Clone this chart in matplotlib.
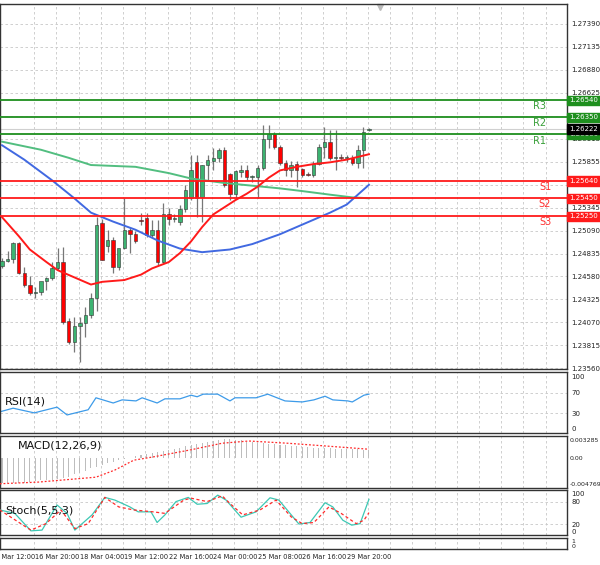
import numpy as np
import matplotlib
matplotlib.use("Agg")
import matplotlib.pyplot as plt

# ---- data (4h candles)
o = [1.2470, 1.2475, 1.2477, 1.2495, 1.2462, 1.2449, 1.2440, 1.2441, 1.2453, 1.2456,
     1.2467, 1.2474, 1.2408, 1.2385, 1.2403, 1.2406, 1.2415, 1.2434, 1.2518, 1.2492,
     1.2499, 1.2468, 1.2490, 1.2510, 1.2505, 1.2521, 1.2523, 1.2504, 1.2510, 1.2474,
     1.2527, 1.2522, 1.2519, 1.2533, 1.2545, 1.2585, 1.2546, 1.2582, 1.2587, 1.2590,
     1.2599, 1.2572, 1.2550, 1.2574, 1.2577, 1.2569, 1.2569, 1.2579, 1.2611, 1.2617,
     1.2602, 1.2584, 1.2577, 1.2583, 1.2578, 1.2572, 1.2571, 1.2583, 1.2602, 1.2608,
     1.2590, 1.2591, 1.2590, 1.2590, 1.2584, 1.2599, 1.2621]
h = [1.2478, 1.2486, 1.2496, 1.2496, 1.2468, 1.2458, 1.2446, 1.2443, 1.2457, 1.2474,
     1.2490, 1.2491, 1.2412, 1.2413, 1.2413, 1.2424, 1.2440, 1.2524, 1.2522, 1.2510,
     1.2502, 1.2475, 1.2545, 1.2513, 1.2509, 1.2529, 1.2529, 1.2521, 1.2521, 1.2540,
     1.2534, 1.2528, 1.2537, 1.2560, 1.2593, 1.2593, 1.2582, 1.2593, 1.2601, 1.2601,
     1.2602, 1.2573, 1.2577, 1.2582, 1.2582, 1.2571, 1.2582, 1.2627, 1.2627, 1.2619,
     1.2604, 1.2588, 1.2586, 1.2586, 1.2579, 1.2574, 1.2586, 1.2605, 1.2624, 1.2621,
     1.2621, 1.2594, 1.2593, 1.2593, 1.2604, 1.2624, 1.2623]
l = [1.2467, 1.2474, 1.2473, 1.2461, 1.2446, 1.2437, 1.2434, 1.2437, 1.2443, 1.2454,
     1.2465, 1.2405, 1.2383, 1.2374, 1.2363, 1.2391, 1.2412, 1.2420, 1.2476, 1.2485,
     1.2462, 1.2465, 1.2488, 1.2484, 1.2495, 1.2515, 1.2502, 1.2502, 1.2471, 1.2473,
     1.2515, 1.2519, 1.2515, 1.2530, 1.2543, 1.2524, 1.2519, 1.2565, 1.2577, 1.2585,
     1.2558, 1.2543, 1.2545, 1.2569, 1.2565, 1.2563, 1.2545, 1.2577, 1.2601, 1.2600,
     1.2582, 1.2570, 1.2569, 1.2558, 1.2569, 1.2570, 1.2569, 1.2582, 1.2590, 1.2588,
     1.2577, 1.2588, 1.2585, 1.2582, 1.2579, 1.2579, 1.2620]
c = [1.2475, 1.2477, 1.2495, 1.2462, 1.2449, 1.2440, 1.2441, 1.2453, 1.2456, 1.2467,
     1.2474, 1.2407, 1.2385, 1.2403, 1.2406, 1.2415, 1.2434, 1.2515, 1.2476, 1.2499,
     1.2468, 1.2490, 1.2510, 1.2505, 1.2498, 1.2520, 1.2504, 1.2510, 1.2474, 1.2527,
     1.2522, 1.2523, 1.2533, 1.2554, 1.2577, 1.2545, 1.2582, 1.2588, 1.2590, 1.2599,
     1.2560, 1.2550, 1.2575, 1.2577, 1.2569, 1.2570, 1.2579, 1.2611, 1.2617, 1.2602,
     1.2584, 1.2577, 1.2582, 1.2577, 1.2571, 1.2571, 1.2583, 1.2602, 1.2608, 1.2590,
     1.2591, 1.2590, 1.2591, 1.2584, 1.2599, 1.2619, 1.2622]

ma_red_x = [0, 3, 5, 8, 10, 13, 16, 18, 22, 25, 27, 30, 32, 34, 36, 38, 40, 42, 44, 46,
            48, 50, 53, 56, 59, 62, 64, 66]
ma_red = [1.2524, 1.2503, 1.2488, 1.2474, 1.2465, 1.2457, 1.2449, 1.2452, 1.2454, 1.2460,
          1.2467, 1.2474, 1.2484, 1.2497, 1.2513, 1.2527, 1.2535, 1.2543, 1.2550, 1.2558,
          1.2568, 1.2576, 1.2580, 1.2583, 1.2585, 1.2588, 1.2591, 1.2594]
ma_blue_x = [0, 4, 9, 13, 16, 20, 24, 28, 32, 36, 41, 45, 50, 53, 56, 59, 62, 64, 66]
ma_blue = [1.2604, 1.2588, 1.2565, 1.2545, 1.2529, 1.2519, 1.2510, 1.2498, 1.2489,
           1.2485, 1.2488, 1.2494, 1.2505, 1.2513, 1.2521, 1.2529, 1.2538, 1.2549, 1.2560]
ma_green_x = [0, 7, 12, 16, 24, 30, 34, 40, 45, 50, 54, 59, 63, 66]
ma_green = [1.2608, 1.2599, 1.2590, 1.2582, 1.2580, 1.2573, 1.2567, 1.2562, 1.2559,
            1.2556, 1.2553, 1.2549, 1.2546, 1.2545]

res_levels = [1.26540, 1.26350, 1.26160]
res_names = ["R3", "R2", "R1"]
sup_levels = [1.25640, 1.25450, 1.25250]
sup_names = ["S1", "S2", "S3"]
last_price = 1.26222
price_ticks = [1.27390, 1.27135, 1.26880, 1.26625, 1.26370, 1.26115, 1.25855, 1.25600,
               1.25345, 1.25090, 1.24835, 1.24580, 1.24325, 1.24070, 1.23815, 1.23560]

rsi_x = [-0.4, 2, 5.8, 9.9, 11.7, 15.5, 16.9, 20, 21.6, 24.1, 25.2, 27.9, 29.3, 32, 34,
         35.1, 36.2, 38.8, 41, 41.9, 45.7, 47.8, 50.9, 54, 56.1, 58.1, 59.5, 62.2, 63,
         65.1, 66]
rsi = [33, 40, 31, 42, 27, 37, 60, 50, 56, 54, 60, 50, 58, 58, 65, 62, 67, 67, 54, 60,
       60, 67, 54, 52, 56, 63, 56, 54, 52, 65, 67]

macd_hist = [-4.6, -4.6, -4.6, -4.6, -4.5, -4.4, -4.2, -4.1, -4.0, -4.0,
             -3.9, -3.7, -3.4, -3.0, -2.7, -2.3, -1.9, -1.6, -1.2, -0.9,
             -0.7, -0.4, -0.2, 0.0, 0.3, 0.5, 0.7, 0.9, 1.1, 1.3,
             1.5, 1.7, 1.9, 2.2, 2.4, 2.6, 2.8, 2.9, 3.1, 3.3,
             3.4, 3.4, 3.3, 3.2, 3.0, 2.9, 2.8, 2.7, 2.6, 2.5,
             2.4, 2.3, 2.2, 2.1, 2.0, 2.0, 1.9, 1.9, 1.8, 1.8,
             1.7, 1.7, 1.6, 1.6, 1.6, 1.5, 1.5]  # x 1e-3
macd_sig_x = [-0.4, 6.5, 16.9, 20.3, 23.7, 27.2, 34, 39.6, 44.4, 51.3, 58.1, 66]
macd_sig = [-4.7, -4.4, -3.5, -2.2, -0.4, 0.2, 1.5, 2.7, 3.1, 2.7, 2.2, 1.6]  # x 1e-3

st_x = [-0.4, 2.3, 5.2, 7.2, 9.9, 11.7, 13.1, 16.2, 18.5, 20.3, 23, 24.5, 26.8, 27.9,
        29.3, 31.3, 33.5, 35.1, 36.9, 38.8, 40.3, 43, 45.7, 48.2, 49.8, 53.4, 55.4,
        58.1, 59.5, 61.3, 62.9, 64.4, 66]
st_main = [58, 49, 3, 5, 71, 49, 5, 45, 91, 84, 66, 53, 53, 25, 45, 80, 91, 73, 75, 97,
           84, 39, 53, 90, 84, 21, 25, 77, 66, 31, 18, 22, 86]
sg_x = [-0.4, 3.8, 5.2, 7.9, 10.6, 13.1, 15.5, 18.5, 21, 23.7, 27.2, 29.3, 32.7, 34,
        36.9, 39.6, 41, 43.3, 46.4, 49.3, 52, 54, 56.1, 58.8, 61, 63.7, 65.1, 66]
st_sig = [58, 18, 5, 22, 58, 9, 22, 91, 66, 58, 53, 49, 84, 89, 80, 95, 75, 45, 58, 84,
          40, 22, 25, 66, 49, 22, 31, 51]

time_labels = ["15 Mar 12:00", "16 Mar 20:00", "18 Mar 04:00", "19 Mar 12:00",
               "22 Mar 16:00", "24 Mar 00:00", "25 Mar 08:00", "26 Mar 16:00",
               "29 Mar 20:00"]

# ---- layout in pixels (600 x 565)
W, H = 600, 565
GREEN_C, RED_C = "#3cb371", "#ff0000"
LV_G, LV_R = "#1e8f1e", "#ff1a1a"
GRID = "#c8c8c8"
PX = 5.56                      # pixels per candle
X0 = -2 / PX
XLIM = (X0, X0 + 567 / PX)

fig = plt.figure(figsize=(6, 5.65), dpi=100, facecolor="white")


def panel(top, bot):
    ax = fig.add_axes([0, 1 - bot / H, 567 / W, (bot - top) / H])
    ax.set_xlim(*XLIM)
    ax.set_xticks([])
    ax.yaxis.tick_right()
    ax.tick_params(axis="y", length=0, labelsize=5, pad=3, colors="#222")
    for s in ax.spines.values():
        s.set_color("#333")
        s.set_linewidth(1.0)
    for k in range(26):
        ax.axvline(X0 + (34 + 22.25 * k) / PX, color=GRID, lw=0.6, ls=(0, (3, 3)), zorder=0)
    return ax


# main price panel
ax = panel(4, 369)
ax.set_ylim(1.23550, 1.27612)
ax.set_yticks(price_ticks)
ax.set_yticklabels([f"{t:.5f}" for t in price_ticks])
for t in price_ticks:
    ax.axhline(t, color=GRID, lw=0.6, ls=(0, (3, 3)), zorder=0)

idx = np.arange(len(o))
for i in idx:
    col = GREEN_C if c[i] >= o[i] else RED_C
    ax.vlines(i, l[i], h[i], color="#777", lw=0.9, zorder=2)
    b0, b1 = min(o[i], c[i]), max(o[i], c[i])
    ax.bar(i, max(b1 - b0, 0.00004), bottom=b0, width=0.62, color=col,
           edgecolor="#333", lw=0.4, zorder=3)

ax.plot(ma_green_x, ma_green, color="#52be80", lw=1.4, zorder=4)
ax.plot(ma_blue_x, ma_blue, color="#4169e1", lw=1.4, zorder=4)
ax.plot(ma_red_x, ma_red, color="#ff1a1a", lw=1.4, zorder=4)

ax.axhline(last_price, color="#d0d0d0", lw=0.8, zorder=1)
for lv, nm in zip(res_levels, res_names):
    ax.axhline(lv, color=LV_G, lw=1.3, zorder=5)
    ax.text(X0 + 540 / PX, lv - 0.00012, nm, color="#3aa03a", fontsize=7, va="top", ha="center")
for lv, nm in zip(sup_levels, sup_names):
    ax.axhline(lv, color=LV_R, lw=1.3, zorder=5)
    ax.text(X0 + 545 / PX, lv - 0.00012, nm, color="#ff3030", fontsize=7, va="top", ha="center")


def tag(lv, fc):
    ax.annotate(f"{lv:.5f}", xy=(1.0, lv), xycoords=("axes fraction", "data"),
                xytext=(1.5, 0), textcoords="offset points", fontsize=5, color="white",
                va="center", ha="left", annotation_clip=False, zorder=10,
                bbox=dict(boxstyle="square,pad=0.25", fc=fc, ec=fc))


for lv in res_levels:
    tag(lv, "#1e8f1e")
for lv in sup_levels:
    tag(lv, "#ff1a1a")
tag(last_price, "#000000")
ax.plot([X0 + 380 / PX], [1.27575], marker="v", color="#bbbbbb", ms=5, clip_on=False)

# RSI
ax_r = panel(372, 433)
ax_r.set_ylim(-7.7, 109.6)
ax_r.set_yticks([100, 70, 30, 0])
for t in (70, 30):
    ax_r.axhline(t, color=GRID, lw=0.6, ls=(0, (3, 3)), zorder=0)
ax_r.plot(rsi_x, rsi, color="#3d9be9", lw=0.9)
ax_r.text(X0 + 5 / PX, 52, "RSI(14)", fontsize=8, va="center", color="#111")

# MACD
ax_m = panel(436, 488)
ax_m.set_ylim(-5.475, 4.015)
ax_m.set_yticks([3.285, 0.0, -4.769])
ax_m.set_yticklabels(["0.003285", "0.00", "-0.004769"])
ax_m.tick_params(axis="y", labelsize=4.5, pad=2)
ax_m.bar(idx, macd_hist, width=0.18, color="#bdbdbd", zorder=2)
ax_m.plot(macd_sig_x, macd_sig, color="#ff2a2a", lw=0.9, ls=(0, (1.5, 1.5)), zorder=3)
ax_m.text(X0 + 18 / PX, 2.2, "MACD(12,26,9)", fontsize=8, va="center", color="#111")

# Stochastic
ax_s = panel(490, 535)
ax_s.set_ylim(-7.9, 110.5)
ax_s.set_yticks([100, 80, 20, 0])
for t in (80, 20):
    ax_s.axhline(t, color=GRID, lw=0.6, ls=(0, (3, 3)), zorder=0)
ax_s.plot(st_x, st_main, color="#3cc8b4", lw=0.9, zorder=3)
ax_s.plot(sg_x, st_sig, color="#ff2a2a", lw=0.9, ls=(0, (2.5, 2)), zorder=3)
ax_s.text(X0 + 5 / PX, 56, "Stoch(5,5,3)", fontsize=8, va="center", color="#111")

# empty bottom panel
ax_e = panel(538, 549)
ax_e.set_ylim(-0.6, 1.6)
ax_e.set_yticks([1, 0])
ax_e.tick_params(axis="y", labelsize=4.5)

for k, lab in enumerate(time_labels):
    xp = (34 + 44.5 * (k - 1)) / W
    fig.text(xp + 0.002, 1 - 557 / H, lab, fontsize=4.8, ha="left", va="center", color="#222")

fig.savefig("out.png", dpi=100, facecolor="white")
